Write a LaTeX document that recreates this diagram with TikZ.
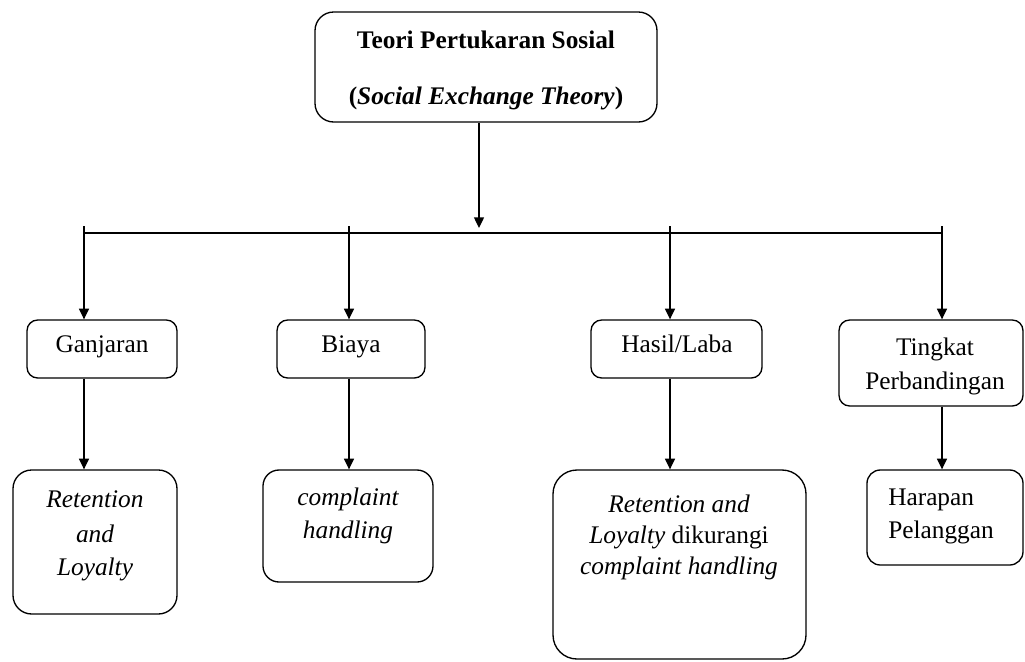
\documentclass[tikz,border=0pt]{standalone}
\usepackage{fontspec}
\setmainfont{Liberation Serif}
\usetikzlibrary{arrows.meta,fit}
\begin{document}
\begin{tikzpicture}[x=0.75pt,y=-0.75pt,
  box/.style={draw, line width=1pt, rounded corners=8pt, inner sep=0pt},
  txt/.style={anchor=base, inner sep=0pt, font=\fontsize{19}{24}\selectfont},
  txtl/.style={anchor=base west, inner sep=0pt, font=\fontsize{19}{24}\selectfont},
  arr/.style={line width=1pt, -{Triangle[width=7.5pt,length=8pt]}},
  ln/.style={line width=1pt}]
\useasboundingbox (0,0) rectangle (1025,661);
% boxes
\node[box, rounded corners=14pt, fit={(315,12) (657,122)}] (top) {};
\node[box, fit={(27,320) (177,378)}] (gan) {};
\node[box, fit={(277,320) (425,378)}] (bia) {};
\node[box, fit={(591,320) (762,378)}] (has) {};
\node[box, fit={(839,320) (1023,406)}] (tin) {};
\node[box, rounded corners=14pt, fit={(13,470) (177,614)}] (ret) {};
\node[box, rounded corners=12pt, fit={(263,470) (433,582)}] (com) {};
\node[box, rounded corners=18pt, fit={(553,470) (806,659)}] (hrl) {};
\node[box, rounded corners=10pt, fit={(867,470) (1023,565)}] (hrp) {};
% texts
\node[txt] (t1) at (486,48) {\bfseries Teori Pertukaran Sosial};
\node[txt] (t2) at (486,104) {\bfseries(\textit{Social Exchange Theory})};
\node[txt] (g1) at (102,352) {Ganjaran};
\node[txt] (b1t) at (351,352) {Biaya};
\node[txt] (h1) at (677,352) {Hasil/Laba};
\node[txt] (k1) at (935,355) {Tingkat};
\node[txt] (k2) at (935,389) {Perbandingan};
\node[txt] (r1) at (95,507) {\itshape Retention};
\node[txt] (r2) at (95,542) {\itshape and};
\node[txt] (r3) at (95,575) {\itshape Loyalty};
\node[txt] (c1) at (348,505) {\itshape complaint};
\node[txt] (c2) at (348,538) {\itshape handling};
\node[txt] (l1) at (679,512) {\itshape Retention and};
\node[txt] (l2) at (679,543) {\textit{Loyalty} dikurangi};
\node[txt] (l3) at (679,574) {\itshape complaint handling};
\node[txtl] (p1) at (888,505) {Harapan};
\node[txtl] (p2) at (888,538) {Pelanggan};
% connectors
\coordinate (j) at (479,228);
\coordinate (bl) at (84,233);
\coordinate (br) at (942,233);
\coordinate (d1) at (84,226);
\coordinate (d2) at (349,226);
\coordinate (d3) at (670,226);
\coordinate (d4) at (942,226);
\draw[arr] (top.south -| j) -- (j);
\draw[ln] (bl) -- (br);
\draw[arr] (d1) -- (d1 |- gan.north);
\draw[arr] (d2) -- (d2 |- bia.north);
\draw[arr] (d3) -- (d3 |- has.north);
\draw[arr] (d4) -- (d4 |- tin.north);
\draw[arr] (d1 |- gan.south) -- (d1 |- ret.north);
\draw[arr] (d2 |- bia.south) -- (d2 |- com.north);
\draw[arr] (d3 |- has.south) -- (d3 |- hrl.north);
\draw[arr] (d4 |- tin.south) -- (d4 |- hrp.north);
\end{tikzpicture}
\end{document}
